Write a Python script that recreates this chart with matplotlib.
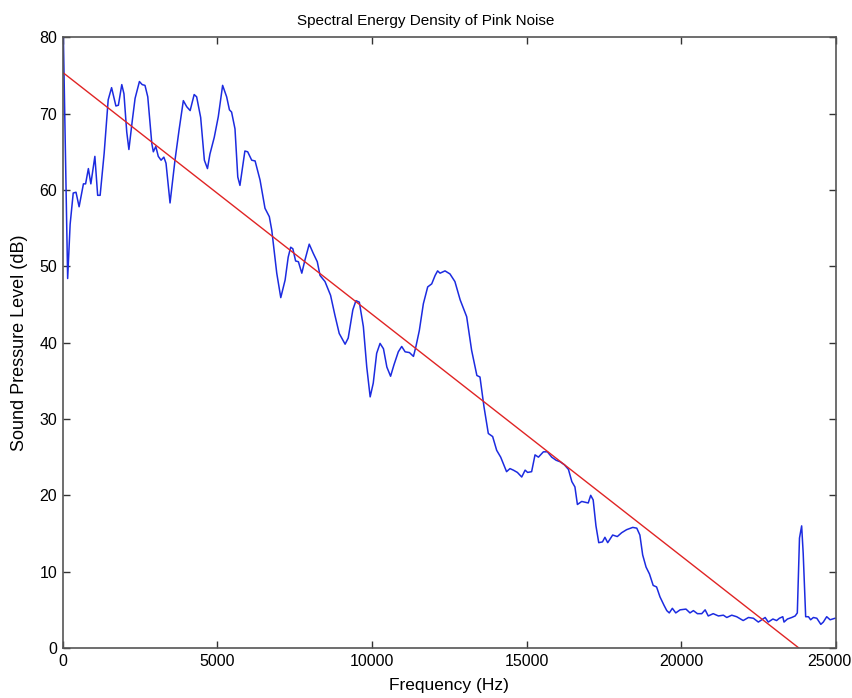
import matplotlib.pyplot as plt
from matplotlib.transforms import ScaledTranslation

# smoothed spectrum of the recorded pink noise (Hz, dB)
freq_hz = [0, 160, 240, 340, 430, 530, 670, 740, 830, 910, 1040, 1130, 1210, 1340,
           1470, 1580, 1720, 1800, 1910, 1980, 2070, 2140, 2250, 2340, 2480, 2570,
           2660, 2750, 2880, 2930, 3010, 3090, 3180, 3270, 3340, 3470, 3630, 3760,
           3900, 4010, 4120, 4250, 4330, 4460, 4580, 4680, 4760, 4900, 5030, 5170,
           5300, 5390, 5460, 5570, 5660, 5730, 5890, 5980, 6110, 6220, 6380, 6540,
           6680, 6760, 6920, 7050, 7190, 7290, 7370, 7440, 7530, 7620, 7730, 7830,
           7970, 8100, 8230, 8320, 8480, 8660, 8800, 8940, 9130, 9230, 9380, 9480,
           9590, 9720, 9830, 9940, 10040, 10150, 10260, 10370, 10480, 10600, 10710,
           10850, 10960, 11070, 11210, 11340, 11420, 11530, 11660, 11800, 11930,
           12040, 12120, 12200, 12360, 12520, 12680, 12850, 13060, 13220, 13390,
           13490, 13620, 13760, 13900, 14030, 14160, 14350, 14460, 14570, 14700,
           14840, 14950, 15030, 15160, 15270, 15380, 15540, 15670, 15810, 15950,
           16080, 16220, 16350, 16460, 16560, 16640, 16780, 16990, 17070, 17150,
           17240, 17330, 17450, 17530, 17620, 17780, 17930, 18070, 18230, 18430,
           18560, 18660, 18750, 18860, 18970, 19090, 19200, 19310, 19440, 19530,
           19610, 19710, 19820, 19960, 20150, 20280, 20390, 20520, 20660, 20770,
           20870, 21030, 21200, 21360, 21470, 21630, 21790, 22000, 22170, 22330,
           22490, 22600, 22710, 22810, 22960, 23080, 23170, 23280, 23320, 23430,
           23570, 23680, 23750, 23820, 23890, 23940, 24020, 24110, 24180, 24270,
           24380, 24510, 24590, 24700, 24810, 24970]
spl_db = [85.0, 48.4, 55.5, 59.6, 59.7, 57.8, 60.8, 60.8, 62.8, 60.8, 64.4, 59.3, 59.3,
          64.8, 71.8, 73.4, 71.0, 71.1, 73.8, 72.6, 67.6, 65.3, 69.1, 72.0, 74.2, 73.8,
          73.7, 72.2, 66.1, 65.0, 65.7, 64.4, 63.9, 64.3, 63.5, 58.3, 63.9, 67.8, 71.7,
          70.9, 70.4, 72.5, 72.2, 69.5, 63.9, 62.8, 64.7, 66.9, 69.6, 73.7, 72.2, 70.5,
          70.2, 68.0, 61.7, 60.6, 65.1, 65.0, 63.9, 63.8, 61.3, 57.6, 56.5, 54.7, 49.1,
          45.9, 48.2, 51.2, 52.5, 52.3, 50.7, 50.6, 49.1, 50.8, 52.9, 51.7, 50.6, 48.8,
          48.0, 46.2, 43.6, 41.2, 39.8, 40.6, 44.3, 45.5, 45.3, 42.1, 36.8, 32.9, 34.7,
          38.6, 39.9, 39.2, 36.8, 35.6, 37.1, 38.8, 39.5, 38.8, 38.7, 38.2, 39.5, 41.6,
          45.1, 47.3, 47.7, 48.8, 49.4, 49.1, 49.4, 49.0, 48.0, 45.6, 43.4, 39.0, 35.7,
          35.5, 31.6, 28.1, 27.7, 25.9, 25.0, 23.1, 23.5, 23.3, 23.0, 22.4, 23.3, 23.0,
          23.1, 25.3, 25.0, 25.7, 25.7, 25.0, 24.6, 24.4, 24.0, 23.4, 21.8, 21.1, 18.8,
          19.2, 19.0, 20.0, 19.4, 16.0, 13.8, 13.9, 14.5, 13.8, 14.8, 14.6, 15.1, 15.5,
          15.8, 15.7, 14.8, 12.2, 10.6, 9.7, 8.2, 8.0, 6.7, 5.6, 4.9, 4.6, 5.2, 4.6,
          5.0, 5.1, 4.6, 4.9, 4.5, 4.5, 5.0, 4.2, 4.5, 4.2, 4.3, 4.0, 4.3, 4.1, 3.6,
          4.0, 3.9, 3.4, 3.7, 4.0, 3.4, 3.8, 3.6, 3.9, 4.1, 3.4, 3.8, 4.0, 4.2, 4.6,
          14.4, 16.0, 12.4, 4.1, 4.1, 3.7, 4.0, 3.9, 3.1, 3.4, 4.1, 3.7, 3.9]

# straight-line fit through the spectrum
fit_hz = [0, 25000]
fit_db = [75.4, -3.8]

x_ticks = [0, 5000, 10000, 15000, 20000, 25000]
y_ticks = [0, 10, 20, 30, 40, 50, 60, 70, 80]

plt.rcParams['font.family'] = ['Liberation Sans', 'DejaVu Sans']

fig = plt.figure(figsize=(8.52, 6.98), dpi=100)
ax = fig.add_axes([0.0736, 0.0716, 0.9076, 0.875])

ax.plot(freq_hz, spl_db, color='#1c2be0', linewidth=1.1)
ax.plot(fit_hz, fit_db, color='#e02424', linewidth=1.0)

ax.set_xlim(0, 25000)
ax.set_ylim(0, 80)
ax.set_xticks(x_ticks)
ax.set_yticks(y_ticks)
ax.tick_params(direction='in', top=True, right=True, length=5, width=1,
               color='#333333', labelsize=11.5, pad=4)
for s in ax.spines.values():
    s.set_color('#555555')
    s.set_linewidth(1.2)

# nudge the last frequency label so it stays inside the figure
last = ax.get_xticklabels()[-1]
last.set_transform(last.get_transform() + ScaledTranslation(-5 / 72, 0, fig.dpi_scale_trans))

ax.set_title('Spectral Energy Density of Pink Noise', fontsize=11, x=0.47, pad=9)
ax.set_xlabel('Frequency (Hz)', fontsize=12.5, labelpad=7)
ax.set_ylabel('Sound Pressure Level (dB)', fontsize=13, labelpad=8)

plt.savefig('out.png', dpi=100)
